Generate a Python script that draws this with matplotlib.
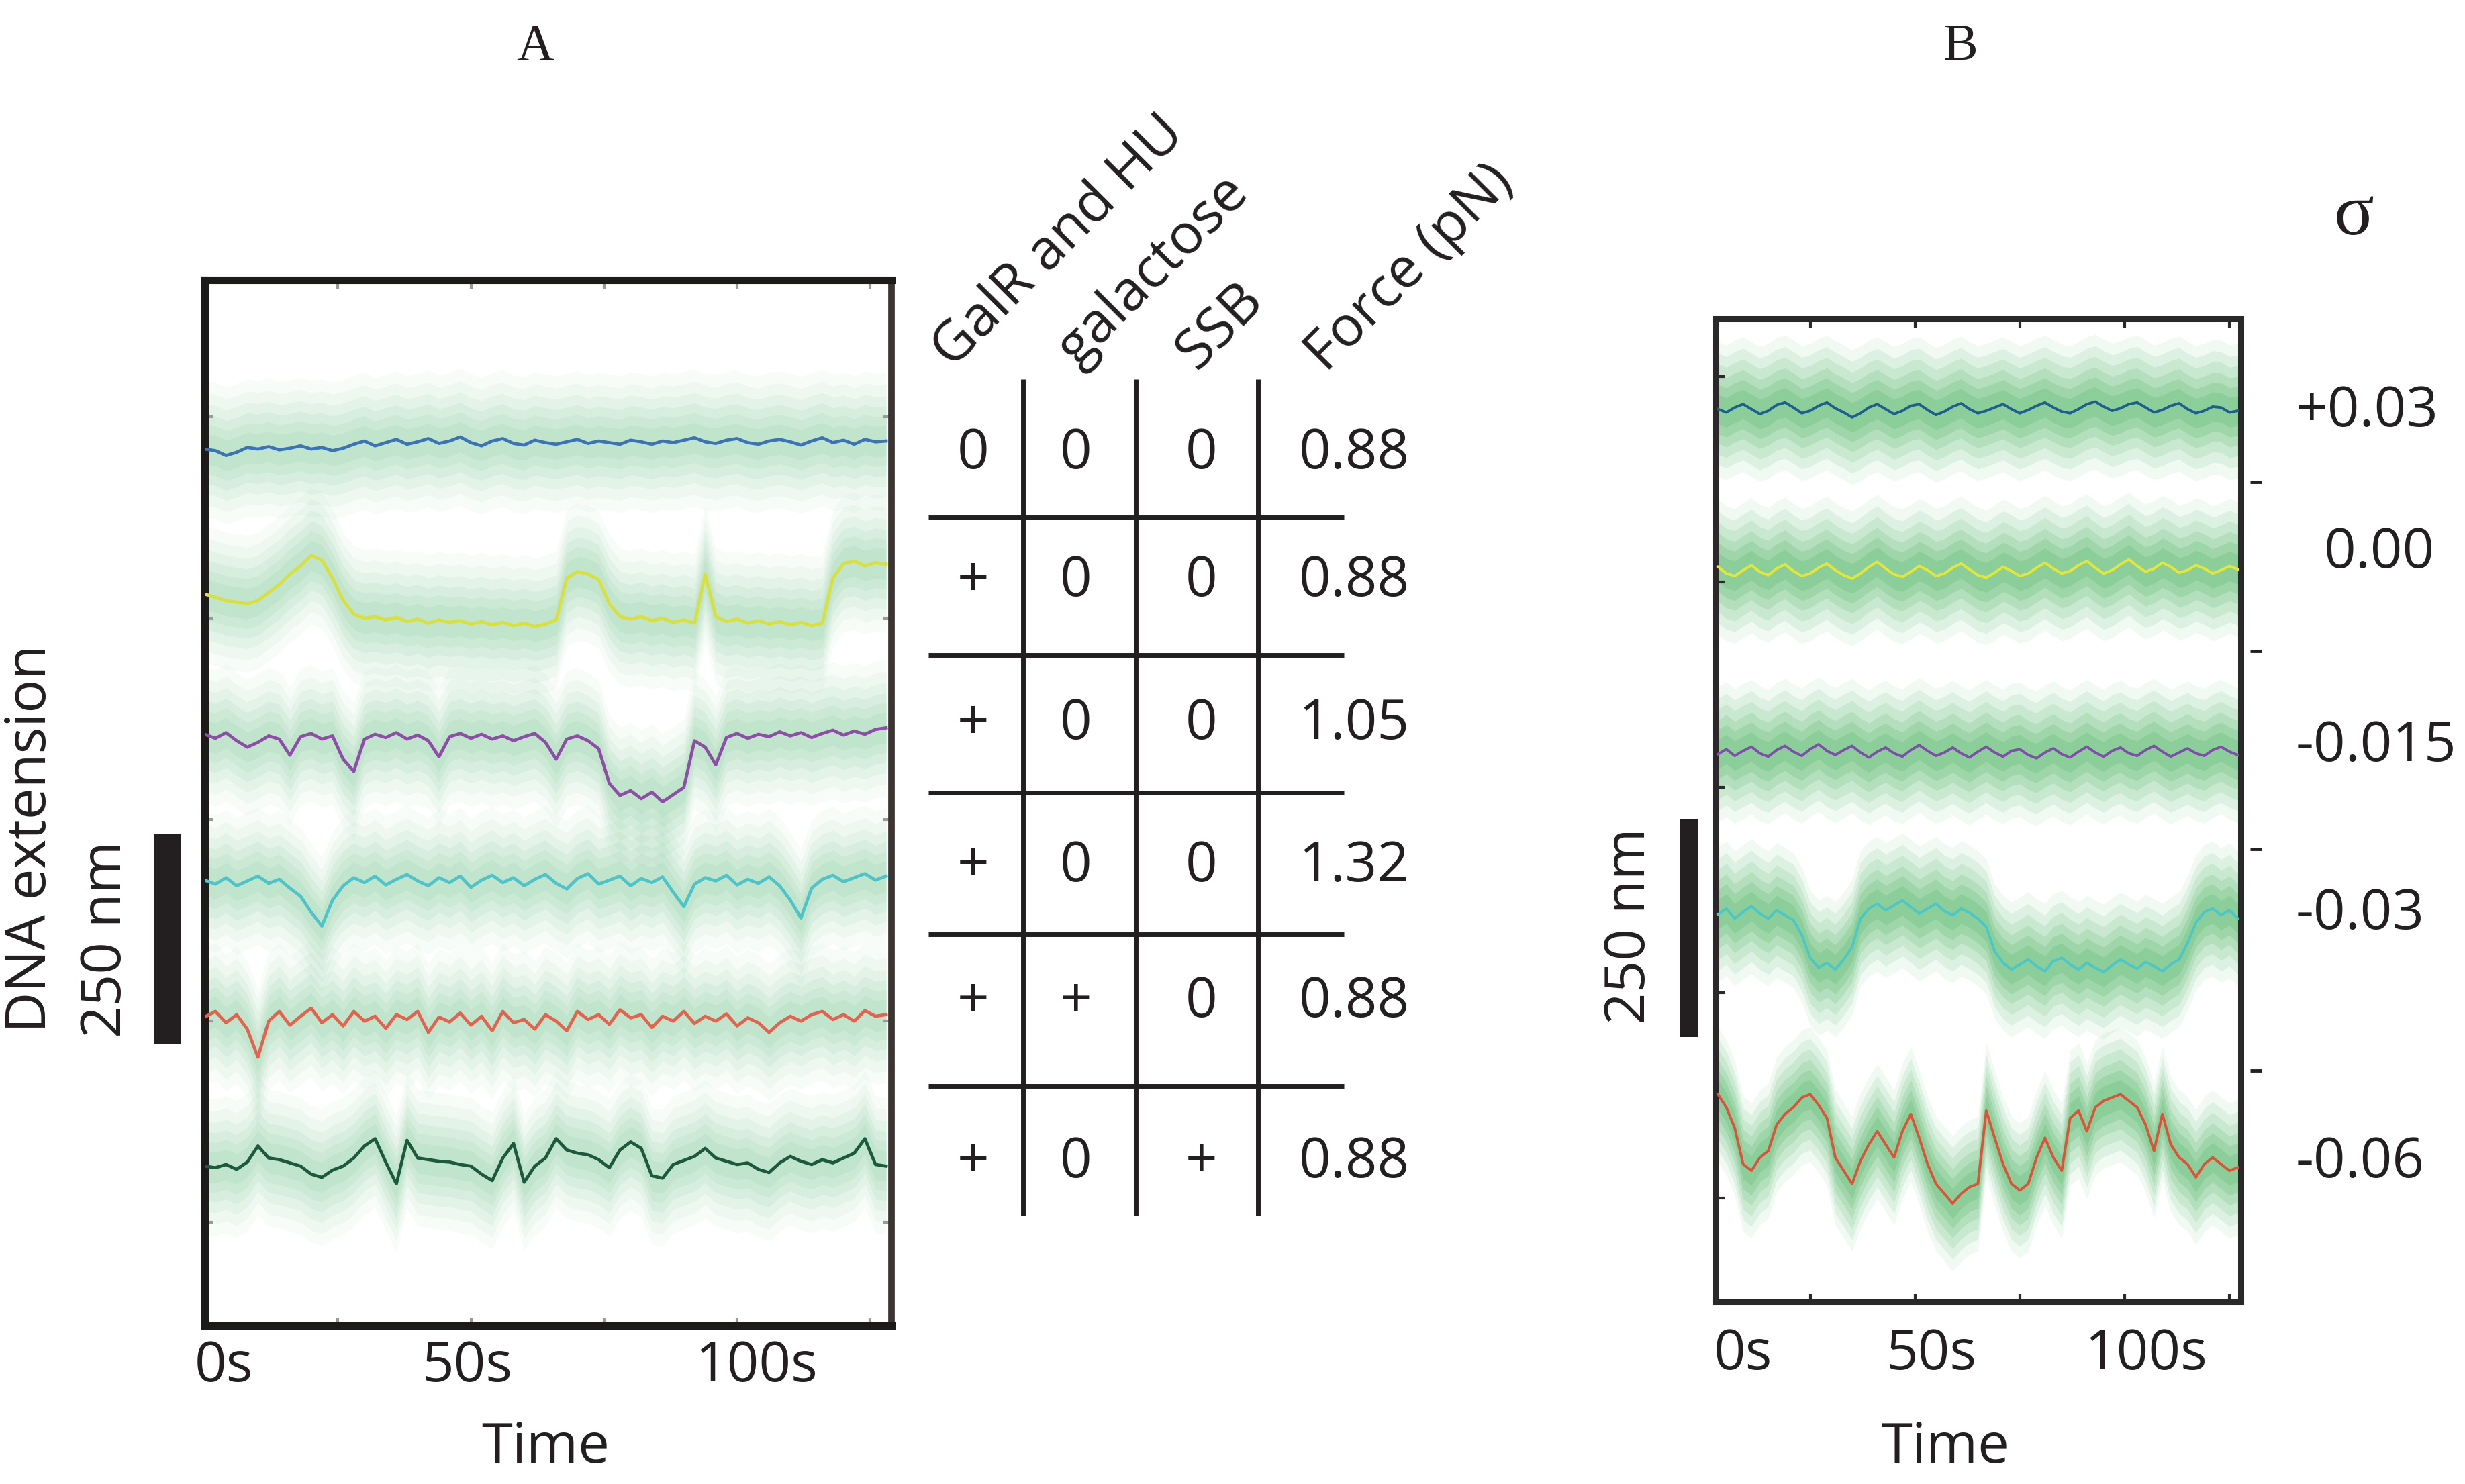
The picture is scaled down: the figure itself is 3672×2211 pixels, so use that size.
import numpy as np
import matplotlib
matplotlib.use("Agg")
import matplotlib.pyplot as plt
from matplotlib.patches import Rectangle

plt.rcParams['font.family'] = ['Open Sans', 'DejaVu Sans']

# ---------------- data ----------------
# Panel A: smoothed DNA extension traces (nm), sampled every 2 s from t = 0 s
blue_a = [960, 958, 952, 956, 962, 960, 963, 959, 961, 964, 960, 962, 958, 961, 966, 970, 964, 968, 972, 966,
          969, 973, 967, 970, 975, 968, 964, 970, 973, 967, 965, 971, 968, 966, 969, 972, 967, 970, 968, 966,
          971, 969, 966, 970, 968, 971, 974, 969, 967, 971, 973, 968, 966, 970, 972, 969, 965, 970, 974, 968,
          971, 966, 972, 969, 970]
yellow_a = [780, 776, 772, 770, 768, 772, 782, 792, 805, 815, 828, 822, 800, 772, 755, 750, 752, 748, 751, 746,
            749, 744, 748, 745, 747, 743, 746, 742, 745, 741, 744, 740, 743, 748, 800, 808, 805, 798, 768, 752,
            749, 752, 747, 750, 745, 748, 744, 805, 752, 746, 749, 744, 747, 743, 746, 742, 745, 741, 744, 800,
            818, 821, 815, 819, 817]
purple_a = [606, 601, 608, 598, 590, 596, 604, 600, 580, 603, 607, 600, 604, 575, 560, 600, 606, 602, 608, 600,
            605, 598, 578, 603, 607, 601, 606, 600, 604, 598, 603, 607, 596, 575, 600, 604, 598, 588, 545, 530,
            536, 526, 534, 522, 531, 540, 598, 590, 568, 602, 607, 601, 606, 603, 609, 604, 608, 602, 607, 611,
            605, 610, 606, 612, 614]
cyan_a = [425, 420, 428, 418, 424, 430, 421, 426, 415, 405, 385, 368, 400, 418, 428, 422, 430, 419, 426, 432,
          424, 418, 428, 422, 430, 416, 425, 431, 422, 428, 418, 426, 432, 421, 414, 427, 433, 420, 425, 430,
          418, 427, 422, 429, 410, 392, 420, 428, 424, 431, 419, 426, 421, 429, 418, 400, 378, 415, 426, 431,
          423, 428, 433, 425, 430]
red_a = [255, 262, 248, 258, 240, 205, 250, 262, 245, 256, 266, 248, 258, 244, 262, 250, 256, 241, 258, 252,
         262, 236, 255, 249, 260, 245, 256, 238, 262, 248, 252, 240, 258, 250, 238, 262, 252, 258, 246, 264,
         254, 258, 242, 256, 250, 262, 247, 256, 250, 259, 244, 254, 248, 236, 248, 256, 250, 258, 262, 252,
         258, 250, 263, 256, 258]
green_a = [70, 68, 72, 66, 75, 95, 80, 78, 74, 70, 60, 56, 65, 70, 80, 95, 104, 75, 48, 102,
           80, 78, 76, 75, 72, 70, 60, 52, 80, 98, 50, 70, 80, 104, 90, 86, 84, 78, 68, 90,
           100, 92, 58, 55, 72, 77, 82, 92, 80, 76, 72, 74, 66, 62, 74, 82, 76, 72, 78, 74,
           80, 86, 104, 72, 70]

# Panel B: smoothed traces (nm), sampled every 2 s from t = 3 s
blue_b = [960, 956, 962, 966, 960, 954, 958, 965, 968, 962, 955, 958, 964, 968, 961, 956, 950, 955, 962, 966,
          960, 954, 958, 964, 966, 959, 953, 957, 963, 967, 960, 955, 958, 962, 966, 960, 955, 959, 964, 968,
          962, 957, 955, 960, 966, 969, 963, 958, 961, 966, 968, 962, 956, 959, 964, 967, 960, 955, 958, 963,
          962, 956, 958]
yellow_b = [768, 760, 757, 764, 770, 762, 758, 766, 771, 763, 757, 760, 767, 772, 764, 758, 754, 760, 768, 774,
            766, 759, 756, 762, 769, 764, 757, 760, 767, 772, 765, 758, 755, 761, 768, 763, 757, 760, 767, 773,
            766, 760, 763, 770, 775, 767, 760, 764, 771, 777, 769, 762, 766, 773, 768, 761, 764, 770, 766, 760,
            764, 769, 765]
purple_b = [540, 546, 538, 544, 549, 541, 537, 545, 550, 543, 538, 546, 552, 544, 539, 545, 550, 542, 536, 543,
            548, 541, 537, 545, 551, 544, 538, 542, 548, 541, 536, 543, 549, 542, 537, 544, 546, 539, 535, 542,
            547, 540, 536, 543, 549, 542, 537, 544, 548, 541, 538, 545, 550, 543, 537, 542, 547, 541, 538, 545,
            549, 543, 539]
cyan_b = [345, 352, 340, 348, 355, 346, 340, 350, 344, 338, 320, 292, 280, 286, 278, 290, 305, 340, 352, 358,
          350, 356, 362, 354, 346, 352, 358, 349, 344, 352, 347, 340, 330, 300, 286, 278, 284, 290, 282, 276,
          288, 292, 284, 278, 286, 280, 275, 283, 290, 284, 279, 287, 282, 276, 284, 290, 310, 335, 348, 352,
          344, 350, 340]
red_b = [126, 110, 85, 41, 33, 49, 57, 89, 102, 110, 122, 126, 113, 97, 49, 33, 17, 45, 65, 81,
         65, 49, 81, 102, 73, 41, 17, 5, -7, 5, 13, 17, 106, 73, 41, 17, 9, 17, 49, 73,
         49, 33, 97, 106, 81, 110, 118, 122, 126, 118, 110, 89, 57, 102, 65, 49, 41, 25, 41, 49,
         41, 33, 37]

# table of conditions (panel A)
table_headers = ['GalR and HU', 'galactose', 'SSB', 'Force (pN)']
galr_hu = ['0', '+', '+', '+', '+', '+']
galactose = ['0', '0', '0', '0', '+', '0']
ssb = ['0', '0', '0', '0', '0', '+']
force_pn = ['0.88', '0.88', '1.05', '1.32', '0.88', '0.88']

# supercoiling density labels (panel B)
sigma_labels = ['+0.03', '0.00', '-0.015', '-0.03', '-0.06']

xtick_labels = ['0s', '50s', '100s']
panel_titles = ['A', 'B']

# ---------------- figure ----------------
W, H = 3673, 2211
fig = plt.figure(figsize=(W / 100, H / 100), dpi=100)
fig.patch.set_facecolor('white')


def fx(px):
    return px / W


def fy(py):
    return 1 - py / H


axA = fig.add_axes([fx(305), fy(1975), fx(1328) - fx(305), fy(417) - fy(1975)])
axB = fig.add_axes([fx(2556), fy(1940), fx(3338) - fx(2556), fy(475) - fy(1940)])
ov = fig.add_axes([0, 0, 1, 1], zorder=10)
ov.set_xlim(0, W)
ov.set_ylim(H, 0)
ov.axis('off')


def cloud(ax, t, v, color, widths, alphas):
    v = np.asarray(v, dtype=float)
    for w, a in zip(widths, alphas):
        ax.fill_between(t, v - w, v + w, color=color, alpha=a, lw=0, zorder=1)


# ----- Panel A -----
tA = 2 * np.arange(len(blue_a))
cloudA = '#86cc9f'
seriesA = [
    (blue_a, '#3b73b4'),
    (yellow_a, '#d9df3c'),
    (purple_a, '#8d4fa6'),
    (cyan_a, '#4fc4c8'),
    (red_a, '#e0644e'),
    (green_a, '#1c5a3e'),
]
for vals, col in seriesA:
    cloud(axA, tA, vals, cloudA, [85, 70, 56, 43, 31, 19], [0.06, 0.08, 0.1, 0.12, 0.13, 0.15])
for vals, col in seriesA:
    axA.plot(tA, vals, color=col, lw=3.4, zorder=3)

axA.set_xlim(0, 129)
axA.set_ylim(-128, 1170)
axA.set_xticks([25, 50, 75, 100, 125])
axA.set_yticks([0, 250, 500, 750, 1000])
axA.tick_params(direction='in', length=9, width=3, color='#9a9a9a',
                top=True, right=True, labelbottom=False, labelleft=False)
for side in ['left', 'bottom', 'top']:
    axA.spines[side].set_linewidth(8)
    axA.spines[side].set_color('#1d1a1a')
axA.spines['right'].set_linewidth(7)
axA.spines['right'].set_color('#3b3431')

# ----- Panel B -----
tB = 3 + 2 * np.arange(len(blue_b))
cloudB = '#4cb462'
seriesB = [
    (blue_b, '#1d5f8c'),
    (yellow_b, '#e3e838'),
    (purple_b, '#7e4fa8'),
    (cyan_b, '#4cc7c6'),
    (red_b, '#d9553a'),
]
for vals, col in seriesB:
    cloud(axB, tB, vals, cloudB, [82, 68, 55, 42, 30, 18], [0.08, 0.11, 0.14, 0.17, 0.2, 0.22])
for vals, col in seriesB:
    axB.plot(tB, vals, color=col, lw=2.8, zorder=3)

axB.set_xlim(2.5, 127.7)
axB.set_ylim(-127, 1070)
axB.set_xticks([25, 50, 75, 100, 125])
axB.set_yticks([0, 250, 500, 750, 1000])
axB.tick_params(direction='in', length=9, width=3, color='#2a2a2a',
                top=True, right=False, labelbottom=False, labelleft=False)
for side in axB.spines:
    axB.spines[side].set_linewidth(6.5)
    axB.spines[side].set_color('#2a2828')

# ----- overlay: labels, table, scale bars -----
txt_kw = dict(fontsize=60, color='#231f20', fontweight='medium')

# titles
ov.text(797, 70, panel_titles[0], fontsize=56, family='Liberation Serif', ha='center', va='center', color='#231f20')
ov.text(2921, 70, panel_titles[1], fontsize=56, family='Liberation Serif', ha='center', va='center', color='#231f20')
ov.text(3507, 322, 'σ', fontsize=80, family='Liberation Serif', ha='center', va='center', color='#231f20')

# x tick labels and axis labels
for lab, x in zip(xtick_labels, [333, 696, 1127]):
    ov.text(x, 2037, lab, ha='center', va='center', **txt_kw)
for lab, x in zip(xtick_labels, [2596, 2877, 3197]):
    ov.text(x, 2019, lab, ha='center', va='center', **txt_kw)
ov.text(813, 2158, 'Time', ha='center', va='center', **txt_kw)
ov.text(2898, 2158, 'Time', ha='center', va='center', **txt_kw)

# y labels and scale bars
ov.text(47, 1249, 'DNA extension', rotation=90, ha='center', va='center', **txt_kw)
ov.text(159, 1400, '250 nm', rotation=90, ha='center', va='center', **txt_kw)
ov.add_patch(Rectangle((230, 1243), 39, 313, color='#231f20', lw=0))
ov.text(2429, 1380, '250 nm', rotation=90, ha='center', va='center', **txt_kw)
ov.add_patch(Rectangle((2502, 1220), 28, 325, color='#231f20', lw=0))

# sigma labels and right-side separators for panel B
for lab, x, y in zip(sigma_labels, [3420, 3462, 3420, 3420, 3420], [614, 825, 1113, 1363, 1733]):
    ov.text(x, y, lab, ha='left', va='center', **txt_kw)
for y in [718, 970, 1265, 1595]:
    ov.plot([3352, 3369], [y, y], color='#231f20', lw=3.5, solid_capstyle='butt')

# table
col_x = [1450, 1603, 1790, 2017]
row_y = [677, 867, 1080, 1292, 1494, 1733]
for i in range(len(force_pn)):
    for x, col in zip(col_x, [galr_hu, galactose, ssb, force_pn]):
        ov.text(x, row_y[i], col[i], ha='center', va='center', **txt_kw)
for x in [1524, 1692, 1874]:
    ov.plot([x, x], [565, 1811], color='#231f20', lw=5, solid_capstyle='butt')
for y in [771, 976, 1181, 1392, 1618]:
    ov.plot([1383, 2002], [y, y], color='#231f20', lw=5, solid_capstyle='butt')

# rotated headers
for lab, (x, y) in zip(table_headers, [(1418, 550), (1605, 548), (1782, 552), (1975, 556)]):
    ov.text(x, y, lab, rotation=45, rotation_mode='anchor', ha='left', va='baseline', **txt_kw)

fig.savefig('out.png', dpi=100, facecolor='white')
